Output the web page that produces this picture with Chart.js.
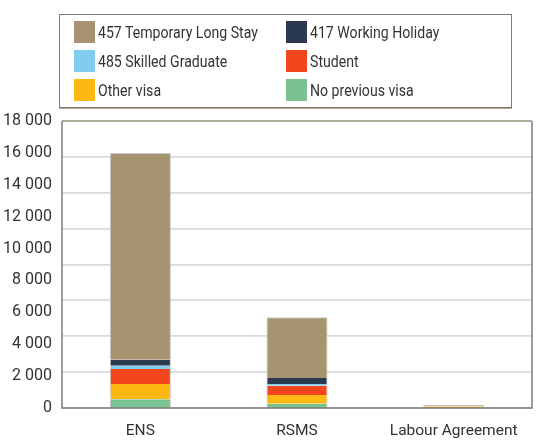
<!DOCTYPE html>
<html>
<head>
<meta charset="utf-8">
<script src="https://cdn.jsdelivr.net/npm/chart.js@4.4.1/dist/chart.umd.min.js"></script>
<style>
  html, body { margin: 0; padding: 0; background: #fff; }
  #wrap { position: relative; width: 540px; height: 446px; }
  #legend {
    position: absolute; left: 59px; top: 14px;
    border: 1px solid #7a7a7a; box-shadow: 0 1px 0 #b5a882;
    display: grid; grid-template-columns: 212px auto; grid-auto-rows: 29px;
    padding: 6px 0 0 14px; box-sizing: border-box; width: 453px; height: 94px;
    font-family: Roboto, 'Liberation Sans', sans-serif;
    font-size: 17px; color: #333;
  }
  .item { display: flex; align-items: flex-start; white-space: nowrap; }
  .sw { width: 21px; height: 22px; margin-right: 3px; flex: none; }
  .item span { line-height: 22px; display: inline-block; transform: scaleX(0.83); transform-origin: left center; }
</style>
</head>
<body>
<div id="wrap">
  <canvas id="chart" width="540" height="446"></canvas>
  <div id="legend"></div>
</div>
<script>
const categories = ['ENS', 'RSMS', 'Labour Agreement'];
const noPreviousVisa = [550, 270, 0];
const otherVisa = [950, 545, 90];
const student = [940, 585, 0];
const skilledGraduate485 = [210, 105, 0];
const workingHoliday417 = [380, 375, 0];
const temporaryLongStay457 = [12970, 3810, 100];
const yMax = 18000;
const yStep = 2000;
const gridMax = 16000;
const legendOrder = ['457 Temporary Long Stay', '417 Working Holiday', '485 Skilled Graduate', 'Student', 'Other visa', 'No previous visa'];

const fontFamily = "Roboto, 'Liberation Sans', sans-serif";
const sideBorder = { left: 1, right: 1, top: 0, bottom: 0 };

function makeSet(label, values, color, border) {
  return {
    label: label,
    data: values,
    backgroundColor: color,
    borderColor: '#c9c9c9',
    borderWidth: border || sideBorder,
    borderSkipped: false,
    barPercentage: 0.39,
    categoryPercentage: 1
  };
}

const datasets = [
  makeSet('No previous visa', noPreviousVisa, '#7ac291'),
  makeSet('Other visa', otherVisa, '#fdb813'),
  makeSet('Student', student, '#f4461d'),
  makeSet('485 Skilled Graduate', skilledGraduate485, '#80cdf0'),
  makeSet('417 Working Holiday', workingHoliday417, '#2b3950'),
  makeSet('457 Temporary Long Stay', temporaryLongStay457, '#a6936f', { left: 1, right: 1, top: 1, bottom: 0 })
];

const frame = {
  id: 'frame',
  afterDraw(chart) {
    const a = chart.chartArea;
    const c = chart.ctx;
    c.save();
    c.lineWidth = 1.5;
    c.strokeStyle = '#7d7d7d';
    c.beginPath();
    c.moveTo(a.left, a.top);
    c.lineTo(a.left, a.bottom);
    c.lineTo(a.right, a.bottom);
    c.lineTo(a.right, a.top);
    c.stroke();
    c.strokeStyle = '#a39d84';
    c.beginPath();
    c.moveTo(a.left, a.top);
    c.lineTo(a.right, a.top);
    c.stroke();
    c.restore();
  }
};

const chart = new Chart(document.getElementById('chart'), {
  type: 'bar',
  data: { labels: categories, datasets: datasets },
  options: {
    responsive: false,
    animation: false,
    layout: { padding: { top: 121, right: 8, left: 0, bottom: 0 } },
    plugins: { legend: { display: false }, tooltip: { enabled: false } },
    scales: {
      x: {
        stacked: true,
        grid: { display: false },
        border: { display: false },
        ticks: { color: '#333', font: { family: fontFamily, size: 15.5 }, padding: 6 },
        afterFit: (s) => { s.height = 38; }
      },
      y: {
        stacked: true,
        min: 0,
        max: yMax,
        grid: { display: false, drawTicks: false },
        border: { display: false },
        ticks: {
          stepSize: yStep,
          color: '#333',
          padding: 10,
          font: { family: fontFamily, size: 16 },
          callback: (v) => String(v).replace(/\B(?=(\d{3})+(?!\d))/g, ' ')
        },
        afterFit: (s) => { s.width = 62; }
      },
      yGrid: {
        position: 'left',
        min: 0,
        max: gridMax,
        grid: { color: '#dadada', lineWidth: 1.8, drawTicks: false },
        border: { display: false },
        ticks: { display: false, stepSize: yStep },
        afterFit: (s) => { s.width = 0; }
      }
    }
  },
  plugins: [frame]
});

const legend = document.getElementById('legend');
legendOrder.forEach(name => {
  const ds = chart.data.datasets.find(d => d.label === name);
  const item = document.createElement('div');
  item.className = 'item';
  item.innerHTML = `<div class="sw" style="background:${ds.backgroundColor}"></div><span>${ds.label}</span>`;
  legend.appendChild(item);
});
</script>
</body>
</html>
